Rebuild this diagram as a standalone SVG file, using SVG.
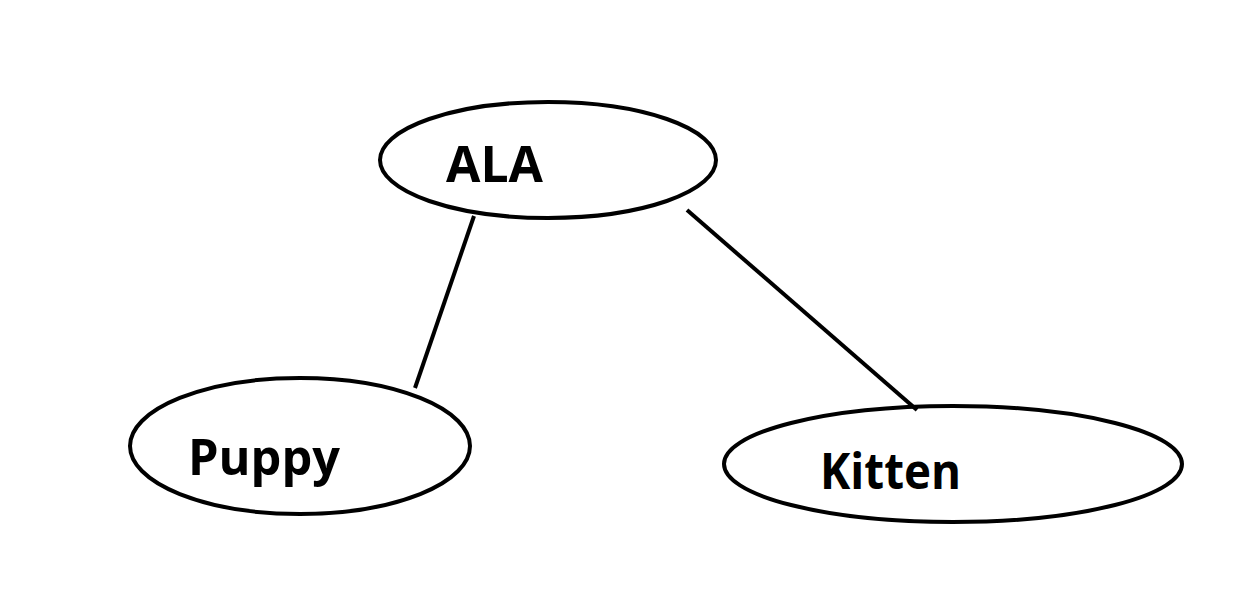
<svg xmlns="http://www.w3.org/2000/svg" width="1251" height="591" viewBox="0 0 1251 591">
<style>
.node ellipse{fill:#fff;stroke:#000;stroke-width:4}
.node text{font-family:"Open Sans","Noto Sans","DejaVu Sans",sans-serif;font-weight:bold;font-size:50px;fill:#000}
.edges line{stroke:#000;stroke-width:4}
</style>
<rect width="1251" height="591" fill="#fff"/>
<g id="ALA" class="node">
<ellipse cx="548" cy="160" rx="168" ry="58"/>
<text x="446" y="182" textLength="97" lengthAdjust="spacingAndGlyphs">ALA</text>
</g>
<g id="Puppy" class="node">
<ellipse cx="300" cy="446" rx="170" ry="68"/>
<text x="188" y="475" textLength="152" lengthAdjust="spacingAndGlyphs">Puppy</text>
</g>
<g id="Kitten" class="node">
<ellipse cx="953" cy="464" rx="229" ry="58"/>
<text x="820" y="489" textLength="141" lengthAdjust="spacingAndGlyphs">Kitten</text>
</g>
<g id="connectors" class="edges">
<line x1="474" y1="216" x2="415" y2="388"/>
<line x1="687" y1="210" x2="917" y2="410"/>
</g>
</svg>
